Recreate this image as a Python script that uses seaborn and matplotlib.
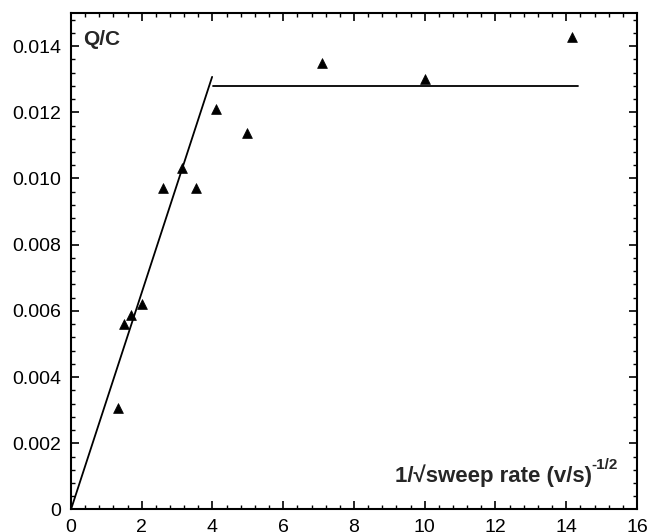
import matplotlib
matplotlib.use("Agg")
import matplotlib.pyplot as plt
import seaborn as sns
import pandas as pd
from matplotlib.ticker import MultipleLocator, FuncFormatter

# data
inv_sqrt_rate = [1.34, 1.49, 1.69, 2.02, 2.60, 3.15, 3.54, 4.09, 4.97, 7.09, 10.02, 14.16]
q_over_c = [0.00306, 0.00560, 0.00587, 0.00621, 0.00971, 0.01031, 0.00971, 0.01210,
            0.01138, 0.01350, 0.01301, 0.01427]
fit_x = [0.0, 3.99]
fit_y = [0.0, 0.01307]
plateau_x = [4.02, 14.32]
plateau_y = [0.0128, 0.0128]

sns.set_theme(style="ticks")
plt.rcParams['font.family'] = ['Liberation Sans', 'DejaVu Sans']

fig = plt.figure(figsize=(6.47, 5.32), dpi=100)
ax = fig.add_axes([0.1097, 0.0423, 0.8748, 0.9333])

df = pd.DataFrame({"x": inv_sqrt_rate, "y": q_over_c})
sns.scatterplot(data=df, x="x", y="y", marker="^", color="black", s=50,
                edgecolor="black", linewidth=0.5, ax=ax, zorder=3)
sns.lineplot(x=fit_x, y=fit_y, color="black", linewidth=1.3, ax=ax, estimator=None, sort=False)
sns.lineplot(x=plateau_x, y=plateau_y, color="black", linewidth=1.3, ax=ax, estimator=None, sort=False)

ax.set_xlim(0, 16)
ax.set_ylim(0, 0.015)
ax.xaxis.set_major_locator(MultipleLocator(2))
ax.xaxis.set_minor_locator(MultipleLocator(0.4))
ax.yaxis.set_major_locator(MultipleLocator(0.002))
ax.yaxis.set_minor_locator(MultipleLocator(0.0004))
ax.xaxis.set_major_formatter(FuncFormatter(lambda v, p: f"{v:.0f}"))
ax.yaxis.set_major_formatter(FuncFormatter(lambda v, p: "0" if abs(v) < 1e-12 else f"{v:.3f}"))

for s in ax.spines.values():
    s.set_visible(True)
    s.set_linewidth(1.5)
    s.set_color("black")

ax.tick_params(which="both", direction="in", top=True, right=True, colors="black")
ax.tick_params(which="major", length=6, width=1.2, labelsize=14)
ax.tick_params(which="minor", length=3, width=1.0)
ax.tick_params(axis="y", which="major", pad=7)
ax.tick_params(axis="x", which="major", pad=7)
ax.set_xlabel("")
ax.set_ylabel("")

ax.text(0.022, 0.965, "Q/C", transform=ax.transAxes, fontsize=15, fontweight="bold",
        ha="left", va="top")
ax.text(0.5724, 0.0554, "1/\u221asweep rate (v/s)", transform=ax.transAxes, fontsize=16,
        fontweight="bold", ha="left", va="baseline")
ax.text(0.919, 0.0816, "-1/2", transform=ax.transAxes, fontsize=11,
        fontweight="bold", ha="left", va="baseline")

fig.savefig("out.png", dpi=100)
